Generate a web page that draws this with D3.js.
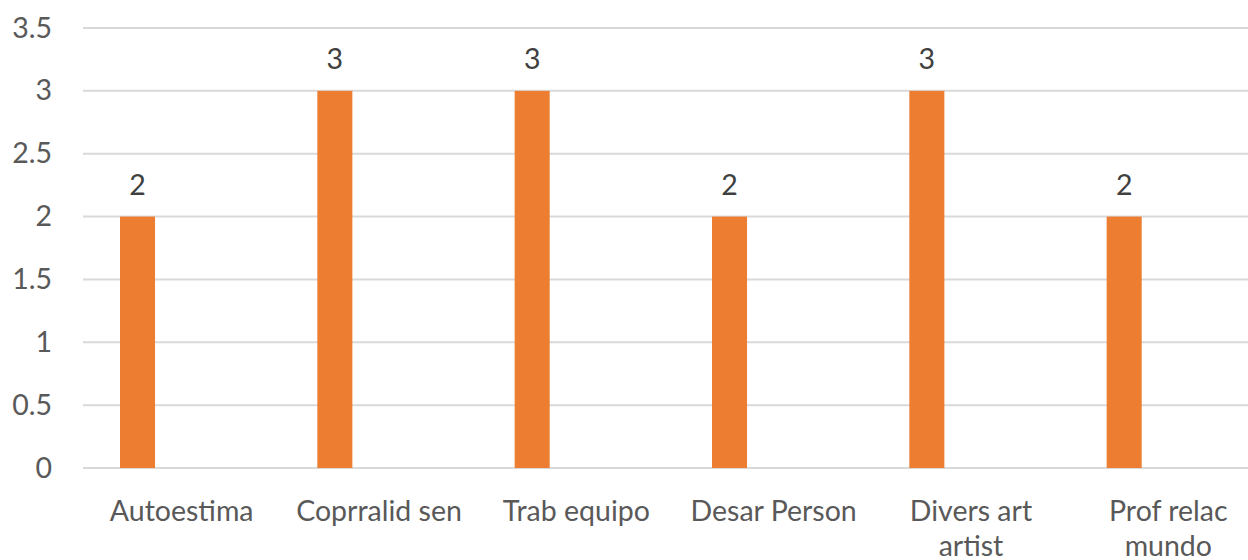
<!DOCTYPE html>
<html>
<head>
<meta charset="utf-8">
<script src="https://cdn.jsdelivr.net/npm/d3@7"></script>
<style>
  html, body { margin: 0; padding: 0; background: #fff; }
  svg text { font-family: Lato, "Open Sans", sans-serif; }
</style>
</head>
<body>
<svg id="chart" width="1248" height="560"></svg>
<script>
// Chart data
const categories = ["Autoestima", "Coprralid sen", "Trab equipo", "Desar Person", "Divers art artist", "Prof relac mundo"];
const values = [2, 3, 3, 2, 3, 2];
const yTicks = [0, 0.5, 1, 1.5, 2, 2.5, 3, 3.5];

const svg = d3.select("#chart");
const plot = { left: 83, right: 1267, top: 28, bottom: 468 };

const x = d3.scaleBand().domain(categories).range([plot.left, plot.right]).padding(0);
const y = d3.scaleLinear().domain([0, 3.5]).range([plot.bottom, plot.top]);

const fontSize = 28.5;

// Horizontal gridlines
svg.append("g")
  .selectAll("line")
  .data(yTicks)
  .join("line")
  .attr("x1", plot.left)
  .attr("x2", 1248)
  .attr("y1", d => y(d))
  .attr("y2", d => y(d))
  .attr("stroke", "#d9d9d9")
  .attr("stroke-width", 2);

// Y axis labels
const yAxis = d3.axisLeft(y).tickValues(yTicks).tickSize(0).tickPadding(0)
  .tickFormat(d3.format("~g"));
const yG = svg.append("g").attr("transform", `translate(52,0)`).call(yAxis);
yG.select(".domain").remove();
yG.selectAll("text")
  .attr("fill", "#595959")
  .style("font-size", fontSize + "px")
  .style("font-family", "Lato, sans-serif");

// Bars sit left of the category centre (clustered layout)
const barOffset = 0.1875, barWidth = 0.1775;
const bx = d => x(d) + x.bandwidth() * barOffset;
const bw = x.bandwidth() * barWidth;

svg.append("g")
  .selectAll("rect")
  .data(categories)
  .join("rect")
  .attr("x", d => bx(d))
  .attr("width", bw)
  .attr("y", (d, i) => y(values[i]))
  .attr("height", (d, i) => y(0) - y(values[i]))
  .attr("fill", "#ed7d31");

// Value labels
svg.append("g")
  .selectAll("text")
  .data(categories)
  .join("text")
  .attr("x", d => bx(d) + bw / 2)
  .attr("y", (d, i) => y(values[i]) - 22)
  .attr("text-anchor", "middle")
  .attr("fill", "#404040")
  .style("font-size", fontSize + "px")
  .text((d, i) => values[i]);

// Category labels, wrapped onto two lines when too wide
const maxW = 185;
const catG = svg.append("g");
categories.forEach(c => {
  const cx = x(c) + x.bandwidth() / 2;
  const t = catG.append("text")
    .attr("x", cx)
    .attr("y", 521)
    .attr("text-anchor", "middle")
    .attr("fill", "#595959")
    .style("font-size", fontSize + "px");
  const words = c.split(" ");
  let line = [];
  let tspan = t.append("tspan").attr("x", cx);
  words.forEach(w => {
    line.push(w);
    tspan.text(line.join(" "));
    if (tspan.node().getComputedTextLength() > maxW && line.length > 1) {
      line.pop();
      tspan.text(line.join(" "));
      line = [w];
      tspan = t.append("tspan")
        .attr("x", cx)
        .attr("dy", 35)
        .text(w);
    }
  });
});
</script>
</body>
</html>
